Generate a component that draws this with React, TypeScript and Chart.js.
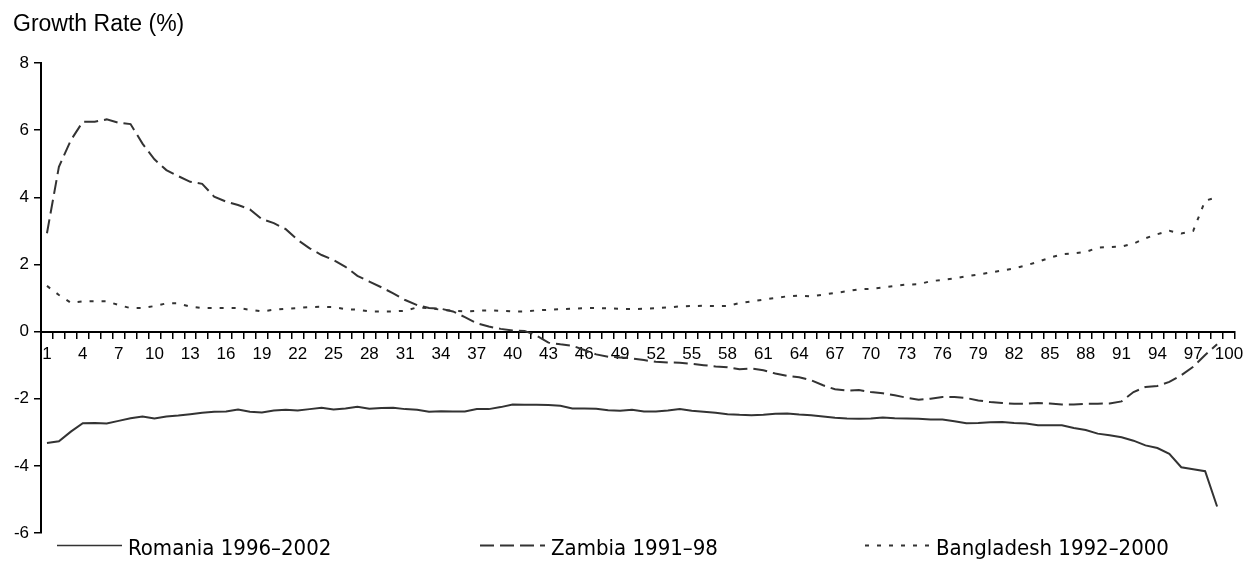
import React, { useEffect, useRef } from "react";
import { Chart, registerables } from "chart.js";

Chart.register(...registerables);

const categories: string[] = [
  "1","2","3","4","5","6","7","8","9","10",
  "11","12","13","14","15","16","17","18","19","20",
  "21","22","23","24","25","26","27","28","29","30",
  "31","32","33","34","35","36","37","38","39","40",
  "41","42","43","44","45","46","47","48","49","50",
  "51","52","53","54","55","56","57","58","59","60",
  "61","62","63","64","65","66","67","68","69","70",
  "71","72","73","74","75","76","77","78","79","80",
  "81","82","83","84","85","86","87","88","89","90",
  "91","92","93","94","95","96","97","98","99","100",
];

const romania: number[] = [
  -3.32, -3.27, -2.98, -2.73, -2.72, -2.74, -2.66, -2.58, -2.53, -2.59,
  -2.53, -2.5, -2.46, -2.42, -2.39, -2.38, -2.32, -2.39, -2.41, -2.35,
  -2.33, -2.35, -2.31, -2.27, -2.32, -2.29, -2.24, -2.3, -2.28, -2.27,
  -2.31, -2.33, -2.39, -2.37, -2.38, -2.38, -2.31, -2.31, -2.25, -2.17,
  -2.18, -2.18, -2.19, -2.21, -2.29, -2.29, -2.3, -2.34, -2.36, -2.33,
  -2.38, -2.38, -2.35, -2.31, -2.36, -2.39, -2.42, -2.46, -2.48, -2.49,
  -2.48, -2.45, -2.44, -2.47, -2.49, -2.53, -2.57, -2.59, -2.6, -2.59,
  -2.56, -2.58, -2.59, -2.6, -2.62, -2.62, -2.67, -2.73, -2.72, -2.7,
  -2.69, -2.72, -2.74, -2.79, -2.79, -2.79, -2.87, -2.93, -3.04, -3.09,
  -3.15, -3.25, -3.39, -3.47, -3.64, -4.04, -4.1, -4.16, -5.21,
];

const zambia: number[] = [
  2.93, 4.91, 5.7, 6.25, 6.25, 6.32, 6.22, 6.18, 5.6, 5.13,
  4.81, 4.63, 4.46, 4.4, 4.02, 3.87, 3.77, 3.64, 3.35, 3.23,
  3.05, 2.73, 2.48, 2.28, 2.13, 1.93, 1.66, 1.49, 1.32, 1.14,
  0.94, 0.79, 0.7, 0.68, 0.6, 0.43, 0.25, 0.15, 0.08, 0.03,
  0.02, -0.12, -0.33, -0.38, -0.42, -0.55, -0.68, -0.75, -0.77, -0.8,
  -0.85, -0.9, -0.92, -0.93, -0.96, -1.0, -1.04, -1.06, -1.12, -1.1,
  -1.15, -1.25, -1.32, -1.36, -1.45, -1.6, -1.72, -1.76, -1.74, -1.8,
  -1.84, -1.9, -1.97, -2.03, -2.0, -1.95, -1.95, -1.98, -2.05, -2.1,
  -2.13, -2.15, -2.15, -2.13, -2.14, -2.17, -2.17, -2.15, -2.15, -2.14,
  -2.08, -1.8, -1.65, -1.62, -1.5, -1.3, -1.05, -0.7, -0.38,
];

const bangladesh: number[] = [
  1.36, 1.09, 0.86, 0.9, 0.9, 0.9, 0.79, 0.7, 0.7, 0.76,
  0.84, 0.84, 0.74, 0.7, 0.7, 0.7, 0.7, 0.65, 0.6, 0.65,
  0.68, 0.7, 0.73, 0.74, 0.73, 0.67, 0.65, 0.6, 0.6, 0.6,
  0.62, 0.72, 0.7, 0.65, 0.62, 0.6, 0.62, 0.63, 0.62, 0.6,
  0.6, 0.63, 0.65, 0.67, 0.68, 0.7, 0.7, 0.69, 0.68, 0.67,
  0.68, 0.7, 0.72, 0.75, 0.76, 0.77, 0.76, 0.76, 0.85, 0.9,
  0.95, 1.0, 1.05, 1.07, 1.05, 1.1, 1.15, 1.2, 1.26, 1.27,
  1.31, 1.36, 1.4, 1.41, 1.5, 1.54, 1.58, 1.65, 1.7, 1.76,
  1.82, 1.88, 1.97, 2.08, 2.2, 2.3, 2.33, 2.37, 2.5, 2.52,
  2.53, 2.62, 2.78, 2.9, 3.0, 2.92, 3.0, 3.9, 4.0,
];

const seriesNames: string[] = ["Romania 1996–2002", "Zambia 1991–98", "Bangladesh 1992–2000"];
const titleText = "Growth Rate (%)";
const yMin = -6;
const yMax = 8;
const yStep = 2;
const labelEvery = 3;

const LINE_COLOR = "#333333";
const TICK_FONT = "'Liberation Sans', Arial, sans-serif";
const LEGEND_FONT = "'DejaVu Sans Condensed', 'DejaVu Sans', sans-serif";

const decorPlugin = {
  id: "decor",
  afterDraw(chart: any) {
    const ctx = chart.ctx as CanvasRenderingContext2D;
    ctx.save();
    // title
    ctx.fillStyle = "#000";
    ctx.font = `23px ${TICK_FONT}`;
    ctx.textAlign = "left";
    ctx.textBaseline = "alphabetic";
    ctx.fillText(titleText, 13, 31);

    // legend
    const starts = [57, 480, 865];
    const sampleLen = 65;
    const lineY = 545.5;
    chart.data.datasets.forEach((ds: any, i: number) => {
      const x0 = starts[i];
      ctx.beginPath();
      ctx.setLineDash(ds.borderDash || []);
      ctx.lineWidth = i === 0 ? 1.5 : 2;
      ctx.strokeStyle = ds.borderColor;
      ctx.moveTo(x0, lineY);
      ctx.lineTo(x0 + sampleLen, lineY);
      ctx.stroke();
      ctx.setLineDash([]);
      ctx.fillStyle = "#000";
      ctx.font = `22px ${LEGEND_FONT}`;
      ctx.textBaseline = "alphabetic";
      ctx.fillText(ds.label, x0 + sampleLen + 6, 555);
    });
    ctx.restore();
  },
};

export default function App() {
  const canvasRef = useRef<HTMLCanvasElement | null>(null);

  useEffect(() => {
    if (!canvasRef.current) return;
    const chart = new Chart(canvasRef.current, {
      type: "line",
      data: {
        labels: categories,
        datasets: [
          {
            label: seriesNames[0],
            data: romania,
            borderColor: LINE_COLOR,
            borderWidth: 2,
            pointRadius: 0,
            tension: 0,
            fill: false,
          },
          {
            label: seriesNames[1],
            data: zambia,
            borderColor: LINE_COLOR,
            borderWidth: 2,
            borderDash: [14, 6],
            pointRadius: 0,
            tension: 0,
            fill: false,
          },
          {
            label: seriesNames[2],
            data: bangladesh,
            borderColor: LINE_COLOR,
            borderWidth: 2,
            borderDash: [4, 8],
            pointRadius: 0,
            tension: 0,
            fill: false,
          },
        ],
      },
      options: {
        animation: false,
        responsive: false,
        devicePixelRatio: 1,
        layout: { padding: { top: 63, bottom: 29, left: 0, right: 8 } },
        plugins: {
          legend: { display: false },
          title: { display: false },
          tooltip: { enabled: false },
        },
        scales: {
          x: {
            type: "category",
            position: { y: 0 } as any,
            offset: true,
            grid: {
              display: true,
              drawOnChartArea: false,
              drawTicks: true,
              tickLength: 6,
              offset: true,
              color: "#000",
              lineWidth: 1.5,
            },
            border: { display: true, color: "#000", width: 2 },
            ticks: {
              autoSkip: false,
              maxRotation: 0,
              minRotation: 0,
              padding: 7,
              color: "#000",
              font: { family: TICK_FONT, size: 17 },
              callback: (_v: any, i: number) => (i % labelEvery === 0 ? categories[i] : ""),
            },
            afterFit: (s: any) => {
              s.paddingLeft = 0;
              s.paddingRight = 0;
            },
          },
          y: {
            min: yMin,
            max: yMax,
            grid: {
              drawOnChartArea: false,
              drawTicks: true,
              tickLength: 7,
              color: "#000",
              lineWidth: 1.5,
            },
            border: { display: true, color: "#000", width: 2 },
            ticks: {
              stepSize: yStep,
              padding: 5,
              color: "#000",
              font: { family: TICK_FONT, size: 17 },
            },
            afterFit: (s: any) => {
              s.width = 41;
              s.paddingTop = 0;
              s.paddingBottom = 0;
            },
          },
        },
      },
      plugins: [decorPlugin],
    });
    return () => chart.destroy();
  }, []);

  return (
    <div
      style={{
        position: "fixed",
        left: 0,
        top: 0,
        width: 1243,
        height: 562,
        background: "#fff",
      }}
    >
      <canvas ref={canvasRef} width={1243} height={562} style={{ width: 1243, height: 562, display: "block" }} />
    </div>
  );
}
